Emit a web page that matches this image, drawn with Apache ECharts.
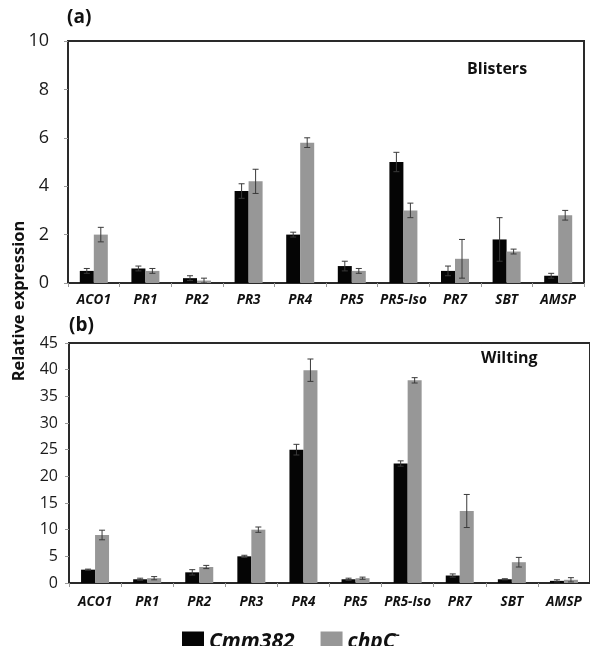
<!DOCTYPE html>
<html><head><meta charset="utf-8">
<script src="https://cdn.jsdelivr.net/npm/echarts@6/dist/echarts.min.js"></script>
<style>html,body{margin:0;padding:0;background:#fff}#c{width:590px;height:646px}</style>
</head><body><div id="c"></div>
<script>
const categories = ['ACO1','PR1','PR2','PR3','PR4','PR5','PR5-Iso','PR7','SBT','AMSP'];
// (a) Blisters
const blistersCmm382 = [0.5, 0.6, 0.2, 3.8, 2.0, 0.7, 5.0, 0.5, 1.8, 0.3];
const blistersCmm382Err = [0.1, 0.1, 0.1, 0.3, 0.1, 0.2, 0.4, 0.2, 0.9, 0.1];
const blistersChpC = [2.0, 0.5, 0.1, 4.2, 5.8, 0.5, 3.0, 1.0, 1.3, 2.8];
const blistersChpCErr = [0.3, 0.1, 0.1, 0.5, 0.2, 0.1, 0.3, 0.8, 0.1, 0.2];
// (b) Wilting
const wiltingCmm382 = [2.5, 0.7, 2.0, 5.0, 25.0, 0.7, 22.4, 1.4, 0.7, 0.4];
const wiltingCmm382Err = [0.1, 0.2, 0.5, 0.2, 1.0, 0.2, 0.5, 0.3, 0.1, 0.2];
const wiltingChpC = [9.0, 0.9, 3.0, 10.0, 39.9, 0.9, 38.0, 13.5, 3.9, 0.6];
const wiltingChpCErr = [0.9, 0.3, 0.3, 0.5, 2.1, 0.2, 0.5, 3.1, 0.9, 0.4];
const seriesNames = ['Cmm382', 'chpC-'];

const FONT = '"Open Sans", sans-serif';
const BLACK = '#050505', GRAY = '#979797';
const BAR_W = 14;

function errData(vals, errs){ return vals.map((v,i)=>[i, v, errs[i]]); }
function errRender(offset){
  return function(params, api){
    const i = api.value(0), v = api.value(1), e = api.value(2);
    const hi = api.coord([i, v + e]);
    const lo = api.coord([i, Math.max(0, v - e)]);
    const x = hi[0] + offset, hw = 3;
    const st = {stroke:'#3a3a3a', lineWidth:1};
    return {type:'group', children:[
      {type:'line', shape:{x1:x, y1:hi[1], x2:x, y2:lo[1]}, style:st},
      {type:'line', shape:{x1:x-hw, y1:hi[1], x2:x+hw, y2:hi[1]}, style:st},
      {type:'line', shape:{x1:x-hw, y1:lo[1], x2:x+hw, y2:lo[1]}, style:st}
    ]};
  };
}

function xAxis(gi, margin){
  return {type:'category', gridIndex:gi, data:categories,
    axisLine:{lineStyle:{color:'#2a2a2a', width:2}},
    axisTick:{show:true, length:4, lineStyle:{color:'#999'}},
    axisLabel:{fontFamily:FONT, fontStyle:'italic', fontWeight:'bold', fontSize:13.5, color:'#111', margin:margin, interval:0}};
}
function yAxis(gi, max, interval, fs, margin){
  return {type:'value', gridIndex:gi, min:0, max:max, interval:interval,
    axisLine:{show:true, lineStyle:{color:'#2a2a2a', width:2}},
    axisTick:{show:true, length:4, lineStyle:{color:'#999'}},
    splitLine:{show:false},
    axisLabel:{fontFamily:FONT, fontSize:fs, color:'#1a1a1a', margin:margin}};
}
function bars(name, data, gi, color){
  return {name:name, type:'bar', xAxisIndex:gi, yAxisIndex:gi, data:data,
    barWidth:BAR_W, barGap:'0%', itemStyle:{color:color}, z:2};
}
function errs(vals, e, gi, offset){
  return {type:'custom', name:'err'+gi+offset, xAxisIndex:gi, yAxisIndex:gi,
    data:errData(vals, e), encode:{x:0, y:1}, renderItem:errRender(offset), z:5, silent:true};
}

const chart = echarts.init(document.getElementById('c'));
chart.setOption({
  animation:false,
  backgroundColor:'#fff',
  grid:[
    {left:68, right:6, top:41, bottom:363, show:true, borderColor:'#2a2a2a', borderWidth:2},
    {left:69, right:-11, top:343, bottom:63, show:true, borderColor:'#2a2a2a', borderWidth:2}
  ],
  xAxis:[xAxis(0, 10), xAxis(1, 12)],
  yAxis:[yAxis(0, 10, 2, 18, 19), yAxis(1, 45, 5, 16, 11)],
  legend:{
    data:seriesNames, left:177, top:625, itemWidth:22, itemHeight:21, itemGap:26,
    icon:'rect',
    formatter:function(n){ return n === 'chpC-' ? '{n|chpC}{s|-}' : '{n|' + n + '}'; },
    textStyle:{fontFamily:FONT, rich:{
      n:{fontFamily:FONT, fontSize:21, fontStyle:'italic', fontWeight:'bold', color:'#111'},
      s:{fontFamily:FONT, fontSize:12, fontWeight:'bold', color:'#111', padding:[0,0,12,0]}
    }}
  },
  graphic:[
    {type:'text', left:67, top:8, style:{text:'(a)', font:'bold 19px ' + FONT, fill:'#111'}},
    {type:'text', left:69, top:316, style:{text:'(b)', font:'bold 19px ' + FONT, fill:'#111'}},
    {type:'text', left:467, top:61, style:{text:'Blisters', font:'bold 16px ' + FONT, fill:'#111'}},
    {type:'text', left:481, top:350, style:{text:'Wilting', font:'bold 16px ' + FONT, fill:'#111'}},
    {type:'text', x:19, y:301, rotation:Math.PI/2,
      style:{text:'Relative expression', font:'bold 16.5px ' + FONT, fill:'#111', align:'center', verticalAlign:'middle'}}
  ],
  series:[
    bars(seriesNames[0], blistersCmm382, 0, BLACK),
    bars(seriesNames[1], blistersChpC, 0, GRAY),
    bars(seriesNames[0], wiltingCmm382, 1, BLACK),
    bars(seriesNames[1], wiltingChpC, 1, GRAY),
    errs(blistersCmm382, blistersCmm382Err, 0, -BAR_W/2),
    errs(blistersChpC, blistersChpCErr, 0, BAR_W/2),
    errs(wiltingCmm382, wiltingCmm382Err, 1, -BAR_W/2),
    errs(wiltingChpC, wiltingChpCErr, 1, BAR_W/2)
  ]
});
</script>
</body></html>
